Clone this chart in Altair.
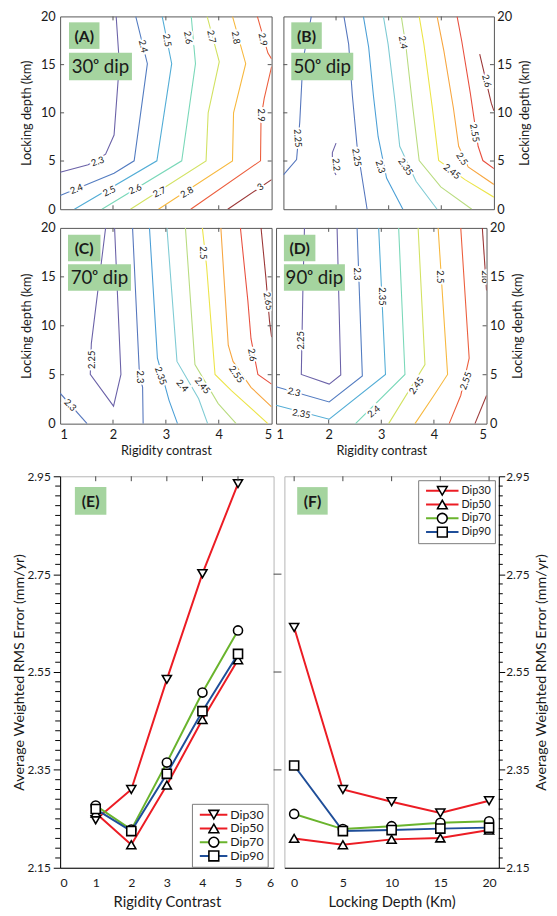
import altair as alt
import pandas as pd

FONT = "Lato"
GREEN = "#a5d49f"
INK = "#1a1a1a"
FRAME = "#555555"

# ---------------------------------------------------------------- colour map for contour levels
CMAP_STOPS = [0, 0.125, 0.25, 0.375, 0.5, 0.625, 0.75, 0.875, 1]
CMAP = ["#6b62a8", "#5576bd", "#4b9fd6", "#7fcbd4", "#b9dc80",
        "#ece448", "#f7a640", "#e8503f", "#9b3636"]

# ---------------------------------------------------------------- panel A (30 deg dip)
A_LEVELS = [2.3, 2.4, 2.5, 2.6, 2.7, 2.8, 2.9, 3.0]
A_LINES = {
    2.3: [[(1.0, 3.83), (1.53, 4.62), (1.86, 5.71), (2.02, 7.69), (2.12, 15.1), (2.06, 20.0)]],
    2.4: [[(1.0, 1.42), (2.02, 3.73), (2.40, 5.02), (2.65, 15.1), (2.43, 20.0)]],
    2.5: [[(1.27, 0.0), (2.83, 5.02), (3.11, 15.1), (2.93, 20.0)]],
    2.6: [[(1.79, 0.0), (3.30, 5.02), (3.56, 15.1), (3.48, 20.0)]],
    2.7: [[(2.33, 0.0), (3.76, 5.02), (3.80, 10.0), (4.01, 15.3), (3.78, 20.0)]],
    2.8: [[(2.86, 0.0), (4.26, 5.02), (4.28, 10.0), (4.51, 15.1), (4.26, 20.0)]],
    2.9: [[(3.47, 0.0), (4.79, 5.02), (4.80, 9.5), (4.86, 11.5), (5.0, 14.8)],
          [(4.73, 20.0), (4.93, 16.2), (5.0, 15.6)]],
    3.0: [[(4.17, 0.0), (5.0, 3.07)]],
}
A_LABELS = [("2.3", 1.71, 4.95, 340), ("2.4", 1.31, 2.08, 340), ("2.4", 2.57, 16.9, 77),
            ("2.5", 1.93, 1.85, 335), ("2.5", 3.02, 17.5, 80), ("2.6", 2.42, 2.08, 335),
            ("2.6", 3.42, 17.8, 80), ("2.7", 2.88, 1.75, 335), ("2.7", 3.86, 17.9, 80),
            ("2.8", 3.40, 1.75, 330), ("2.8", 4.32, 17.8, 80), ("2.9", 4.83, 17.6, 78),
            ("2.9", 4.79, 9.77, 90), ("3", 4.79, 2.31, 325)]

# ---------------------------------------------------------------- panel B (50 deg dip)
B_LEVELS = [2.2, 2.25, 2.3, 2.35, 2.4, 2.45, 2.5, 2.55, 2.6]
B_LINES = {
    2.2: [[(2.0, 6.86), (1.93, 5.87), (1.93, 4.22), (2.0, 3.56)]],
    2.25: [[(1.0, 3.56), (1.25, 5.15), (1.31, 9.01), (1.37, 15.4), (1.53, 20.0)],
           [(2.15, 20.0), (2.24, 17.1), (2.31, 11.8), (2.40, 6.53), (2.59, 0.0)]],
    2.3: [[(2.52, 20.0), (2.62, 16.8), (2.71, 11.8), (2.80, 7.52), (2.96, 3.23), (3.27, 0.0)]],
    2.35: [[(2.90, 20.0), (2.99, 17.1), (3.12, 11.2), (3.21, 6.53), (3.52, 2.9), (3.92, 0.0)]],
    2.4: [[(3.24, 20.0), (3.33, 16.8), (3.46, 10.5), (3.58, 5.05), (3.99, 2.31), (4.58, 0.0)]],
    2.45: [[(3.58, 20.0), (3.67, 17.1), (3.83, 10.5), (3.95, 5.05), (4.45, 3.07), (5.0, 1.25)]],
    2.5: [[(3.92, 20.0), (4.05, 16.4), (4.23, 10.5), (4.33, 6.53), (4.51, 4.39), (5.0, 2.57)]],
    2.55: [[(4.30, 20.0), (4.39, 17.4), (4.55, 12.1), (4.70, 6.53), (4.79, 5.05), (5.0, 4.22)]],
    2.6: [[(4.73, 16.1), (4.95, 11.0), (5.0, 10.2)]],
}
B_LABELS = [("2.2", 2.0, 4.62, 85), ("2.25", 1.27, 7.36, 85), ("2.25", 2.39, 5.38, 82),
            ("2.3", 2.84, 4.39, 72), ("2.35", 3.32, 4.39, 55), ("2.4", 3.27, 17.3, 80),
            ("2.45", 4.20, 3.89, 38), ("2.5", 4.39, 5.21, 58), ("2.55", 4.63, 7.92, 80),
            ("2.6", 4.86, 13.3, 75)]

# ---------------------------------------------------------------- panel C (70 deg dip)
C_LEVELS = [2.25, 2.3, 2.35, 2.4, 2.45, 2.5, 2.55, 2.6, 2.65]
C_LINES = {
    2.25: [[(1.86, 20.0), (1.59, 8.18), (1.57, 5.03), (2.01, 1.79), (2.15, 5.03), (2.03, 20.0)]],
    2.3: [[(1.0, 3.11), (1.51, 0.0)],
          [(2.37, 20.0), (2.50, 5.03), (2.56, 3.71), (2.57, 0.0)]],
    2.35: [[(2.69, 20.0), (2.84, 6.69), (3.06, 2.38), (3.22, 0.0)]],
    2.4: [[(3.02, 20.0), (3.21, 6.36), (3.62, 2.55), (3.79, 0.0)]],
    2.45: [[(3.37, 20.0), (3.55, 6.03), (3.99, 2.05), (4.33, 0.0)]],
    2.5: [[(3.69, 20.0), (3.77, 16.1), (3.93, 5.03), (4.24, 3.38), (4.93, 0.0)]],
    2.55: [[(4.04, 20.0), (4.18, 8.01), (4.27, 6.36), (4.61, 3.71), (5.0, 1.72)]],
    2.6: [[(4.41, 20.0), (4.55, 12.6), (4.61, 8.68), (4.74, 5.03), (5.0, 4.04)]],
    2.65: [[(4.80, 20.0), (4.89, 15.0), (4.96, 10.5), (5.0, 8.84)]],
}
C_LABELS = [("2.3", 1.19, 1.89, 45), ("2.25", 1.61, 6.52, 270), ("2.3", 2.51, 4.77, 90),
            ("2.35", 2.90, 4.87, 70), ("2.4", 3.31, 3.87, 50), ("2.45", 3.69, 3.87, 50),
            ("2.5", 3.71, 17.45, 90), ("2.55", 4.33, 5.03, 55), ("2.6", 4.63, 7.02, 80),
            ("2.65", 4.93, 12.5, 80)]

# ---------------------------------------------------------------- panel D (90 deg dip)
D_LEVELS = [2.25, 2.3, 2.35, 2.4, 2.45, 2.5, 2.55, 2.6]
D_LINES = {
    2.25: [[(1.54, 20.0), (1.51, 13.6), (1.48, 5.03), (2.01, 4.04), (2.23, 4.97), (2.16, 20.0)]],
    2.3: [[(2.54, 20.0), (2.64, 4.87), (2.01, 2.22), (1.0, 3.77)]],
    2.35: [[(2.95, 20.0), (3.08, 5.03), (2.01, 0.46), (1.0, 1.89)]],
    2.4: [[(3.33, 20.0), (3.45, 5.03), (2.51, 0.0)]],
    2.45: [[(3.70, 20.0), (3.83, 6.03), (3.14, 0.0)]],
    2.5: [[(4.08, 20.0), (4.26, 5.03), (3.98, 2.72), (3.64, 0.0)]],
    2.55: [[(4.51, 20.0), (4.67, 6.69), (4.51, 2.88), (4.29, 0.0)]],
    2.6: [[(4.92, 20.0), (5.0, 13.6)], [(4.78, 0.0), (5.0, 2.88)]],
}
D_LABELS = [("2.25", 1.48, 8.51, 270), ("2.3", 2.54, 15.3, 90), ("2.3", 1.34, 3.21, 15),
            ("2.35", 3.01, 13.0, 90), ("2.35", 1.48, 0.99, 10), ("2.4", 2.86, 1.23, 320),
            ("2.45", 3.67, 3.87, 305), ("2.5", 4.11, 15.0, 90), ("2.55", 4.61, 4.37, 290),
            ("2.6", 4.97, 15.0, 90)]

# ---------------------------------------------------------------- panels E and F
SERIES = ["Dip30", "Dip50", "Dip70", "Dip90"]
MARKERS = ["m30", "m50", "m70", "m90"]
SERIES_COLORS = ["#ec1c24", "#ec1c24", "#6ab42d", "#1f4e99"]
SHAPES = ["triangle-down", "triangle-up", "circle", "square"]

E_X = [1, 2, 3, 4, 5]
E_DIP30 = [2.248, 2.310, 2.535, 2.751, 2.935]
E_DIP50 = [2.262, 2.197, 2.319, 2.453, 2.575]
E_DIP70 = [2.277, 2.228, 2.365, 2.508, 2.635]
E_DIP90 = [2.270, 2.225, 2.342, 2.470, 2.587]

F_X = [0, 5, 10, 15, 20]
F_DIP30 = [2.641, 2.310, 2.285, 2.262, 2.287]
F_DIP50 = [2.210, 2.197, 2.208, 2.211, 2.227]
F_DIP70 = [2.260, 2.229, 2.235, 2.242, 2.245]
F_DIP90 = [2.359, 2.225, 2.227, 2.230, 2.232]

Y_MAJOR = [2.15, 2.35, 2.55, 2.75, 2.95]
Y_MINOR = [round(2.15 + 0.02 * i, 2) for i in range(41) if i % 10 != 0]

ONE = pd.DataFrame({"k": [0]})


def label_box(tag, dip, box1, box2):
    layers = []
    (x1, y1, x2, y2) = box1
    layers.append(alt.Chart(ONE).mark_rect(fill=GREEN).encode(
        x=alt.value(x1), x2=alt.value(x2), y=alt.value(y1), y2=alt.value(y2)))
    layers.append(alt.Chart(ONE).mark_text(text=tag, font=FONT, fontSize=16, fontWeight="bold",
                                           color=INK, align="center", baseline="middle").encode(
        x=alt.value((x1 + x2) / 2), y=alt.value((y1 + y2) / 2 + 1)))
    if dip:
        (x1, y1, x2, y2) = box2
        layers.append(alt.Chart(ONE).mark_rect(fill=GREEN).encode(
            x=alt.value(x1), x2=alt.value(x2), y=alt.value(y1), y2=alt.value(y2)))
        layers.append(alt.Chart(ONE).mark_text(text=dip, font=FONT, fontSize=19,
                                               color=INK, align="center", baseline="middle").encode(
            x=alt.value((x1 + x2) / 2), y=alt.value((y1 + y2) / 2 + 1)))
    return layers


def contour_panel(lines, levels, labels, tag, dip, w, h, right, xlab, box1, box2):
    lo, hi = min(levels), max(levels)
    rows = []
    for lv, segs in lines.items():
        for si, seg in enumerate(segs):
            for oi, (x, y) in enumerate(seg):
                rows.append({"seg": f"{lv}-{si}", "o": oi, "x": x, "y": y,
                             "t": (lv - lo) / (hi - lo)})
    df = pd.DataFrame(rows)
    lab = pd.DataFrame(labels, columns=["text", "x", "y", "a"])

    xs = alt.Scale(domain=[1, 5], nice=False, zero=False)
    ys = alt.Scale(domain=[0, 20], nice=False, zero=False)
    xkw = dict(values=[1, 2, 3, 4, 5], format="d", ticks=False, domain=False, grid=False,
               labels=xlab, labelFont=FONT, labelFontSize=13, labelPadding=5, labelColor=INK)
    if xlab:
        xax = alt.Axis(title="Rigidity contrast", titleFont=FONT, titleFontSize=13,
                       titleFontWeight="normal", titlePadding=3, titleColor=INK, **xkw)
    else:
        xax = alt.Axis(title=None, **xkw)
    ykw = dict(values=[0, 5, 10, 15, 20], format="d", ticks=False, domain=False, grid=False,
               labelFont=FONT, labelFontSize=13, labelColor=INK, title="Locking depth (km)",
               titleFont=FONT, titleFontSize=13, titleFontWeight="normal", titleColor=INK)
    if right:
        yax = alt.Axis(orient="right", labelPadding=3, titleAngle=270, titleBaseline="top",
                       titlePadding=7, **ykw)
    else:
        yax = alt.Axis(orient="left", labelPadding=5, titlePadding=7, **ykw)

    X = lambda f: alt.X(f, scale=xs, axis=xax)
    Y = lambda f: alt.Y(f, scale=ys, axis=yax)

    cont = alt.Chart(df).mark_line(strokeWidth=1.1, clip=True).encode(
        x=X("x:Q"), y=Y("y:Q"),
        color=alt.Color("t:Q", scale=alt.Scale(domain=CMAP_STOPS, range=CMAP), legend=None),
        detail="seg:N", order="o:Q")
    halo = alt.Chart(lab).mark_text(font=FONT, fontSize=9.5, color="white", stroke="white",
                                    strokeWidth=4, clip=True).encode(
        x=X("x:Q"), y=Y("y:Q"), text="text:N", angle=alt.Angle("a:Q", scale=None))
    txt = alt.Chart(lab).mark_text(font=FONT, fontSize=9.5, color=INK, clip=True).encode(
        x=X("x:Q"), y=Y("y:Q"), text="text:N", angle=alt.Angle("a:Q", scale=None))

    xt = pd.DataFrame({"v": [2, 3, 4]})
    yt = pd.DataFrame({"v": [5, 10, 15]})
    L = 4
    tk = dict(color=FRAME, strokeWidth=1)
    t_top = alt.Chart(xt).mark_rule(**tk).encode(x=X("v:Q"), y=alt.value(0), y2=alt.value(L))
    t_bot = alt.Chart(xt).mark_rule(**tk).encode(x=X("v:Q"), y=alt.value(h - L), y2=alt.value(h))
    t_lef = alt.Chart(yt).mark_rule(**tk).encode(y=Y("v:Q"), x=alt.value(0), x2=alt.value(L))
    t_rig = alt.Chart(yt).mark_rule(**tk).encode(y=Y("v:Q"), x=alt.value(w - L), x2=alt.value(w))

    layers = [cont, halo, txt, t_top, t_bot, t_lef, t_rig] + label_box(tag, dip, box1, box2)
    if not right:
        layers.append(alt.Chart(ONE).mark_rule(strokeOpacity=0).encode(
            x=alt.value(-52), y=alt.value(20), y2=alt.value(30)))
    return alt.layer(*layers).properties(
        width=w, height=h, view=alt.ViewBackground(stroke=FRAME, strokeWidth=1))


def line_panel(xvals, series, xdom, xvalues, xtitle, w, h, right, cleg, sleg, tag, box1):
    rows = []
    for (name, vals), mk in zip(series.items(), MARKERS):
        for x, v in zip(xvals, vals):
            rows.append({"series": name, "marker": mk, "x": x, "v": v})
    df = pd.DataFrame(rows)
    xs = alt.Scale(domain=xdom, nice=False, zero=False)
    ys = alt.Scale(domain=[2.15, 2.95], nice=False, zero=False)
    xax = alt.Axis(values=xvalues, format="d", ticks=False, domain=True, domainColor="black",
                   grid=False, labelFont=FONT, labelFontSize=12.5, labelPadding=9, labelColor=INK,
                   title=xtitle, titleFont=FONT, titleFontSize=15, titleFontWeight="normal",
                   titlePadding=6, titleColor=INK)
    ykw = dict(values=Y_MAJOR, format=".2f", grid=False, domain=True, domainColor="black",
               tickColor="black", labelFont=FONT, labelFontSize=12, labelColor=INK,
               title="Average Weighted RMS Error (mm/yr)", titleFont=FONT, titleFontSize=14.5,
               titleFontWeight="normal", titleColor=INK)
    if right:
        yax = alt.Axis(orient="right", tickSize=6, labelPadding=1, titleAngle=270,
                       titleBaseline="top", titlePadding=6, **ykw)
    else:
        yax = alt.Axis(orient="left", tickSize=7, labelPadding=3, titlePadding=1, **ykw)
    X = lambda f: alt.X(f, scale=xs, axis=xax)
    Y = lambda f: alt.Y(f, scale=ys, axis=yax)

    lines = alt.Chart(df).mark_line(strokeWidth=2).encode(
        x=X("x:Q"), y=Y("v:Q"),
        color=alt.Color("series:N", scale=alt.Scale(domain=SERIES, range=SERIES_COLORS),
                        legend=alt.Legend(**cleg)))
    pts = alt.Chart(df).mark_point(filled=False, fill="white", fillOpacity=1,
                                   strokeWidth=1.6, size=85, opacity=1).encode(
        x=X("x:Q"), y=Y("v:Q"),
        shape=alt.Shape("marker:N", scale=alt.Scale(domain=MARKERS, range=SHAPES),
                        legend=alt.Legend(**sleg)),
        stroke=alt.Stroke("marker:N", scale=alt.Scale(domain=MARKERS, range=["black"] * 4),
                          legend=alt.Legend(**sleg)))

    minor = pd.DataFrame({"v": Y_MINOR})
    inner = pd.DataFrame({"v": Y_MAJOR[1:-1]})
    topt = pd.DataFrame({"v": xvalues[1:-1] if not right else xvalues})
    rk = dict(color="black", strokeWidth=1)
    layers = [lines, pts]
    if right:
        layers.append(alt.Chart(minor).mark_rule(**rk).encode(
            y=Y("v:Q"), x=alt.value(w), x2=alt.value(w + 4)))
    else:
        layers.append(alt.Chart(minor).mark_rule(**rk).encode(
            y=Y("v:Q"), x=alt.value(-5), x2=alt.value(0)))
        layers.append(alt.Chart(inner).mark_rule(color="#444", strokeWidth=1).encode(
            y=Y("v:Q"), x=alt.value(w), x2=alt.value(w + 8)))
        layers.append(alt.Chart(ONE).mark_rule(strokeOpacity=0).encode(
            x=alt.value(-50), y=alt.value(20), y2=alt.value(30)))
    layers.append(alt.Chart(topt).mark_rule(color="#444", strokeWidth=1).encode(
        x=X("v:Q"), y=alt.value(0), y2=alt.value(5)))
    layers += label_box(tag, None, box1, None)
    return alt.layer(*layers).properties(
        width=w, height=h, view=alt.ViewBackground(stroke="#b5b5b5", strokeWidth=1))


def legends(lx, ly, line_len, fs, rowh, pad):
    common = dict(orient="none", legendY=ly, title=None, padding=pad, labelFont=FONT,
                  clipHeight=rowh, rowPadding=0, labelOffset=2, labelLimit=200)
    cleg = dict(legendX=lx, symbolType="stroke", symbolStrokeWidth=2, symbolSize=line_len ** 2,
                symbolOffset=3, strokeColor="#7a7a7a", labelColor=INK, zindex=1,
                labelFontSize=fs, **common)
    ms = 100
    centre = lx + pad + 3 + line_len / 2
    sleg = dict(legendX=centre - pad - ms ** 0.5 / 2, symbolSize=ms, symbolOffset=0,
                symbolFillColor="white", symbolStrokeWidth=1.6,
                symbolOpacity=1, labelExpr="''", labelFontSize=fs, zindex=2, **common)
    return cleg, sleg


H1, H2, H3 = 196, 199, 398

A = contour_panel(A_LINES, A_LEVELS, A_LABELS, "(A)", "30ᵒ dip", 215, H1, False, False,
                  (9, 6, 40, 33), (9, 37, 73, 65))
B = contour_panel(B_LINES, B_LEVELS, B_LABELS, "(B)", "50ᵒ dip", 214, H1, True, False,
                  (8, 6, 39, 33), (8, 37, 71, 65))
C = contour_panel(C_LINES, C_LEVELS, C_LABELS, "(C)", "70ᵒ dip", 215, H2, False, True,
                  (8, 7, 41, 34), (8, 37, 72, 64))
D = contour_panel(D_LINES, D_LEVELS, D_LABELS, "(D)", "90ᵒ dip", 214, H2, True, True,
                  (8, 7, 40, 34), (8, 37, 70, 64))

e_cleg, e_sleg = legends(134, 333, 28, 12.5, 14, 4)
f_cleg, f_sleg = legends(136, 4, 33, 11, 13.5, 4)

E = line_panel(E_X, {"Dip30": E_DIP30, "Dip50": E_DIP50, "Dip70": E_DIP70, "Dip90": E_DIP90},
               [0, 6], [0, 1, 2, 3, 4, 5, 6], "Rigidity Contrast", 217, H3, False,
               e_cleg, e_sleg, "(E)", (15, 11, 47, 39))
F = line_panel(F_X, {"Dip30": F_DIP30, "Dip50": F_DIP50, "Dip70": F_DIP70, "Dip90": F_DIP90},
               [-1, 21], [0, 5, 10, 15, 20], "Locking Depth (Km)", 218, H3, True,
               f_cleg, f_sleg, "(F)", (13, 11, 44, 39))


def indep(c):
    return c.resolve_scale(color="independent", shape="independent",
                           stroke="independent").resolve_legend(
        color="independent", shape="independent", stroke="independent")


row1 = indep(alt.hconcat(A, B, spacing=10))
row2 = indep(alt.hconcat(C, D, spacing=2.5))
row3 = indep(alt.hconcat(E, F, spacing=1))
top = indep(alt.vconcat(row1, row2, spacing=4))
chart = indep(alt.vconcat(top, row3, spacing=11.5)).properties(
    padding={"top": -6, "left": 0, "right": 0, "bottom": 0}, background="white")

chart.save("out.html", embed_options={"renderer": "svg", "actions": False})
